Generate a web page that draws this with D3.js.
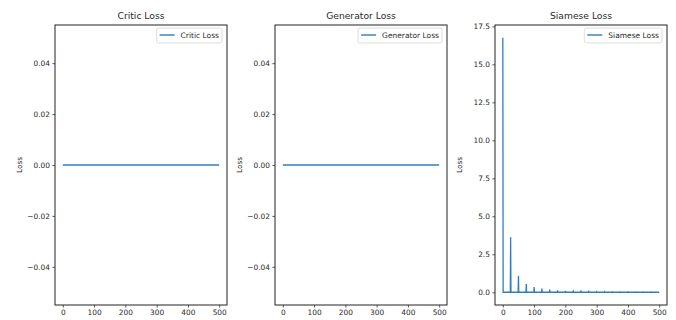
<!DOCTYPE html>
<html>
<head>
<meta charset="utf-8">
<script src="https://cdn.jsdelivr.net/npm/d3@7"></script>
<style>
  html, body { margin: 0; padding: 0; background: #fff; }
  svg { display: block; font-family: "DejaVu Sans", sans-serif; }
</style>
</head>
<body>
<div id="chart"></div>
<script>
// epochs 0..500
const epochs = d3.range(0, 501);

// critic / generator loss stayed at zero for the whole run
const criticLoss = epochs.map(() => 0);
const generatorLoss = epochs.map(() => 0);

// siamese loss: spikes every 25 epochs, zero in between
const siameseSpikeEpochs = [0, 25, 50, 75, 100, 125, 150, 175, 200, 225, 250, 275, 300, 325, 350, 375, 400, 425, 450, 475, 500];
const siameseSpikeValues = [16.75, 3.62, 1.08, 0.55, 0.34, 0.24, 0.17, 0.12, 0.09, 0.07, 0.06, 0.05, 0.04, 0.04, 0.03, 0.03, 0.03, 0.02, 0.02, 0.02, 0.02];
const siameseLoss = epochs.map((e) => {
  const i = siameseSpikeEpochs.indexOf(e);
  return i >= 0 ? siameseSpikeValues[i] : 0;
});

const xTicks = [0, 100, 200, 300, 400, 500];
const flatTicks = [-0.04, -0.02, 0, 0.02, 0.04];
const flatDomain = [-0.055, 0.055];
const siameseTicks = [0, 2.5, 5, 7.5, 10, 12.5, 15, 17.5];

const panels = [
  { title: "Critic Loss", values: criticLoss, ticks: flatTicks, fmt: d3.format(".2f"), domain: flatDomain, left: 55 },
  { title: "Generator Loss", values: generatorLoss, ticks: flatTicks, fmt: d3.format(".2f"), domain: flatDomain, left: 275 },
  { title: "Siamese Loss", values: siameseLoss, ticks: siameseTicks, fmt: d3.format(".1f"), domain: null, left: 495 },
];

const W = 676, H = 320;
const plotW = 172, plotTop = 25, plotBottom = 305;
const lineColor = "#2f7fba";
const textColor = "#2a2a2a";
const tickFont = 7.4, legendFont = 7.5, titleFont = 9.2;

const svg = d3.select("#chart").append("svg").attr("width", W).attr("height", H);

// matplotlib-style 5% margins
function padDomain(ext) {
  const span = ext[1] - ext[0];
  return [ext[0] - span * 0.05, ext[1] + span * 0.05];
}

panels.forEach((p) => {
  const x = d3.scaleLinear().domain(padDomain(d3.extent(epochs))).range([p.left, p.left + plotW]);
  const y = d3.scaleLinear().domain(p.domain || padDomain(d3.extent(p.values))).range([plotBottom, plotTop]);

  const g = svg.append("g");

  // line
  const line = d3.line().x((d, i) => x(epochs[i])).y((d) => y(d));
  g.append("path")
    .datum(p.values)
    .attr("fill", "none")
    .attr("stroke", lineColor)
    .attr("stroke-width", 1.3)
    .attr("d", line);

  // axes
  const xAxis = d3.axisBottom(x).tickValues(xTicks).tickSize(2.6).tickPadding(2.5).tickFormat(d3.format("d"));
  const yAxis = d3.axisLeft(y).tickValues(p.ticks).tickSize(2.6).tickPadding(2.5)
    .tickFormat((d) => p.fmt(d).replace("-", "\u2212"));

  g.append("g").attr("transform", `translate(0,${plotBottom})`).call(xAxis)
    .call((s) => s.select(".domain").remove());
  g.append("g").attr("transform", `translate(${p.left},0)`).call(yAxis)
    .call((s) => s.select(".domain").remove());

  g.selectAll(".tick text").attr("fill", textColor).style("font-size", tickFont + "px").style("font-family", "DejaVu Sans");
  g.selectAll(".tick line").attr("stroke", "#333").attr("stroke-width", 0.8);

  // frame
  g.append("rect")
    .attr("x", p.left).attr("y", plotTop)
    .attr("width", plotW).attr("height", plotBottom - plotTop)
    .attr("fill", "none").attr("stroke", "#222").attr("stroke-width", 1);

  // title
  g.append("text")
    .attr("x", p.left + plotW / 2).attr("y", plotTop - 6)
    .attr("text-anchor", "middle")
    .attr("fill", textColor)
    .style("font-size", titleFont + "px")
    .text(p.title);

  // y label
  g.append("text")
    .attr("transform", `translate(${p.left - 33},${(plotTop + plotBottom) / 2}) rotate(-90)`)
    .attr("text-anchor", "middle")
    .attr("fill", textColor)
    .style("font-size", tickFont + "px")
    .text("Loss");

  // legend
  const lg = g.append("g");
  const label = lg.append("text")
    .attr("fill", textColor)
    .style("font-size", legendFont + "px")
    .text(p.title);
  const tw = label.node().getComputedTextLength();
  const em = legendFont;
  const boxW = tw + 3.6 * em;
  const boxH = 15;
  const bx = p.left + plotW - 5 - boxW;
  const by = plotTop + 3;
  lg.insert("rect", "text")
    .attr("x", bx).attr("y", by)
    .attr("width", boxW).attr("height", boxH)
    .attr("rx", 2)
    .attr("fill", "#fff").attr("fill-opacity", 0.8)
    .attr("stroke", "#d6d6d6").attr("stroke-width", 0.8);
  lg.insert("line", "text")
    .attr("x1", bx + 0.4 * em).attr("x2", bx + 2.4 * em)
    .attr("y1", by + 7).attr("y2", by + 7)
    .attr("stroke", lineColor).attr("stroke-width", 1.4);
  label.attr("x", bx + 3.2 * em).attr("y", by + boxH / 2 + 2.6);
});
</script>
</body>
</html>
